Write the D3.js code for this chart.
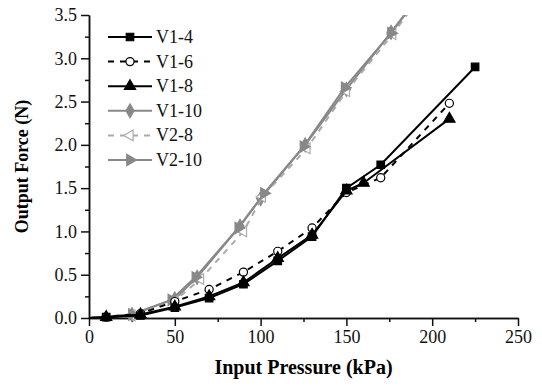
<!DOCTYPE html>
<html>
<head>
<meta charset="utf-8">
<script src="https://cdn.jsdelivr.net/npm/d3@7"></script>
<style>
  body { margin: 0; background: #fff; }
  svg { display: block; }
  .axis path, .axis line { stroke: #111; stroke-width: 1.5px; }
</style>
</head>
<body>
<svg id="chart" width="542" height="387"></svg>
<script>
// series: pressure (kPa) and force (N)
const seriesNames = ["V1-4", "V1-6", "V1-8", "V1-10", "V2-8", "V2-10"];

const v14P = [0, 10, 30, 50, 70, 90, 110, 130, 150, 170, 225];
const v14F = [0, 0.01, 0.03, 0.12, 0.23, 0.39, 0.66, 0.94, 1.50, 1.77, 2.90];

const v16P = [0, 10, 30, 50, 70, 90, 110, 130, 150, 170, 210];
const v16F = [0, 0.01, 0.05, 0.19, 0.33, 0.53, 0.77, 1.04, 1.45, 1.62, 2.48];

const v18P = [0, 10, 30, 50, 70, 90, 110, 130, 150, 160, 210];
const v18F = [0, 0.01, 0.04, 0.13, 0.25, 0.41, 0.69, 0.96, 1.47, 1.56, 2.30];

const v110P = [0, 25, 50, 63, 88, 100, 126, 150, 176, 200];
const v110F = [0, 0.04, 0.22, 0.47, 1.06, 1.38, 2.00, 2.64, 3.30, 3.92];

const v28P = [0, 25, 50, 65, 90, 101, 127, 150, 177, 200];
const v28F = [0, 0.03, 0.20, 0.45, 1.00, 1.40, 1.96, 2.62, 3.28, 3.90];

const v210P = [0, 25, 48, 62, 87, 102, 125, 149, 176, 200];
const v210F = [0, 0.04, 0.21, 0.47, 1.04, 1.44, 1.98, 2.66, 3.29, 3.92];

const xTicks = [0, 50, 100, 150, 200, 250];
const yTicks = [0, 0.5, 1.0, 1.5, 2.0, 2.5, 3.0, 3.5];

const serif = "'Liberation Serif', 'Times New Roman', serif";

const styles = [
    { color: "#000", dash: null, symbol: d3.symbolSquare, size: 56, fill: "#000" },
    { color: "#000", dash: "6,6", symbol: d3.symbolCircle, size: 52, fill: "#fff" },
    { color: "#000", dash: null, symbol: d3.symbolTriangle, size: 55, fill: "#000" },
    { color: "#888", dash: null, symbol: d3.symbolDiamond, size: 55, fill: "#888" },
    { color: "#aaa", dash: "6,6", symbol: d3.symbolTriangle, size: 50, fill: "#fff", rotate: -90 },
    { color: "#888", dash: null, symbol: d3.symbolTriangle, size: 55, fill: "#888", rotate: 90 }
];

const series = [
    [v14P, v14F], [v16P, v16F], [v18P, v18F],
    [v110P, v110F], [v28P, v28F], [v210P, v210F]
].map((s, i) => ({
    name: seriesNames[i],
    style: styles[i],
    values: s[0].map((p, j) => ({ p: p, f: s[1][j] }))
}));

const svg = d3.select("#chart");
const margin = { left: 89, right: 24, top: 15, bottom: 69 };
const width = 542 - margin.left - margin.right;
const height = 387 - margin.top - margin.bottom;

const x = d3.scaleLinear().domain([0, 250]).range([0, width]);
const y = d3.scaleLinear().domain([0, 3.5]).range([height, 0]);

const g = svg.append("g").attr("transform", `translate(${margin.left},${margin.top})`);

svg.append("defs").append("clipPath").attr("id", "clip")
    .append("rect").attr("x", -6).attr("y", 0).attr("width", width + 12).attr("height", height + 6);

// minor ticks
g.append("g").attr("class", "axis").attr("transform", `translate(0,${height})`)
    .call(d3.axisBottom(x).tickValues(d3.range(25, 250, 50)).tickSize(4).tickFormat("").tickSizeOuter(0));
g.append("g").attr("class", "axis")
    .call(d3.axisLeft(y).tickValues(d3.range(0.25, 3.5, 0.5)).tickSize(4).tickFormat("").tickSizeOuter(0));

// major axes
g.append("g").attr("class", "axis").attr("transform", `translate(0,${height})`)
    .call(d3.axisBottom(x).tickValues(xTicks).tickSize(8).tickPadding(4).tickFormat(d3.format("d")).tickSizeOuter(0))
    .attr("font-family", serif).attr("font-size", 18)
    .selectAll("text").attr("fill", "#111");
g.append("g").attr("class", "axis")
    .call(d3.axisLeft(y).tickValues(yTicks).tickSize(8).tickPadding(4).tickFormat(d3.format(".1f")).tickSizeOuter(0))
    .attr("font-family", serif).attr("font-size", 18)
    .selectAll("text").attr("fill", "#111");

const line = d3.line().x(d => x(d.p)).y(d => y(d.f));
const plot = g.append("g").attr("clip-path", "url(#clip)");

// gray series first so black ones sit on top
const order = [3, 4, 5, 0, 1, 2];
order.forEach(i => {
    const s = series[i];
    plot.append("path")
        .datum(s.values)
        .attr("fill", "none")
        .attr("stroke", s.style.color)
        .attr("stroke-width", 2)
        .attr("stroke-dasharray", s.style.dash)
        .attr("d", line);
    plot.selectAll(null)
        .data(s.values.filter(d => d.p > 0))
        .join("path")
        .attr("d", d3.symbol().type(s.style.symbol).size(s.style.size))
        .attr("transform", d => `translate(${x(d.p)},${y(d.f)}) rotate(${s.style.rotate || 0})`)
        .attr("fill", s.style.fill)
        .attr("stroke", s.style.color)
        .attr("stroke-width", 1.2);
});

// legend
const legend = g.append("g").attr("transform", "translate(19,22)");
series.forEach((s, i) => {
    const row = legend.append("g").attr("transform", `translate(0,${i * 24.6})`);
    row.append("line")
        .attr("x1", 0).attr("x2", 44)
        .attr("stroke", s.style.color)
        .attr("stroke-width", 2)
        .attr("stroke-dasharray", s.style.dash);
    row.append("path")
        .attr("d", d3.symbol().type(s.style.symbol).size(s.style.size))
        .attr("transform", `translate(22,0) rotate(${s.style.rotate || 0})`)
        .attr("fill", s.style.fill)
        .attr("stroke", s.style.color)
        .attr("stroke-width", 1.2);
    row.append("text")
        .attr("x", 48).attr("y", 6)
        .attr("font-family", serif)
        .attr("font-size", 18)
        .attr("fill", "#111")
        .text(s.name);
});

// axis titles
svg.append("text")
    .attr("x", margin.left + x(125)).attr("y", 374)
    .attr("text-anchor", "middle")
    .attr("font-family", serif)
    .attr("font-weight", "bold")
    .attr("font-size", 20)
    .text("Input Pressure (kPa)");

svg.append("text")
    .attr("transform", `translate(28,${margin.top + y(1.75)}) rotate(-90)`)
    .attr("text-anchor", "middle")
    .attr("font-family", serif)
    .attr("font-weight", "bold")
    .attr("font-size", 18)
    .text("Output Force (N)");
</script>
</body>
</html>
